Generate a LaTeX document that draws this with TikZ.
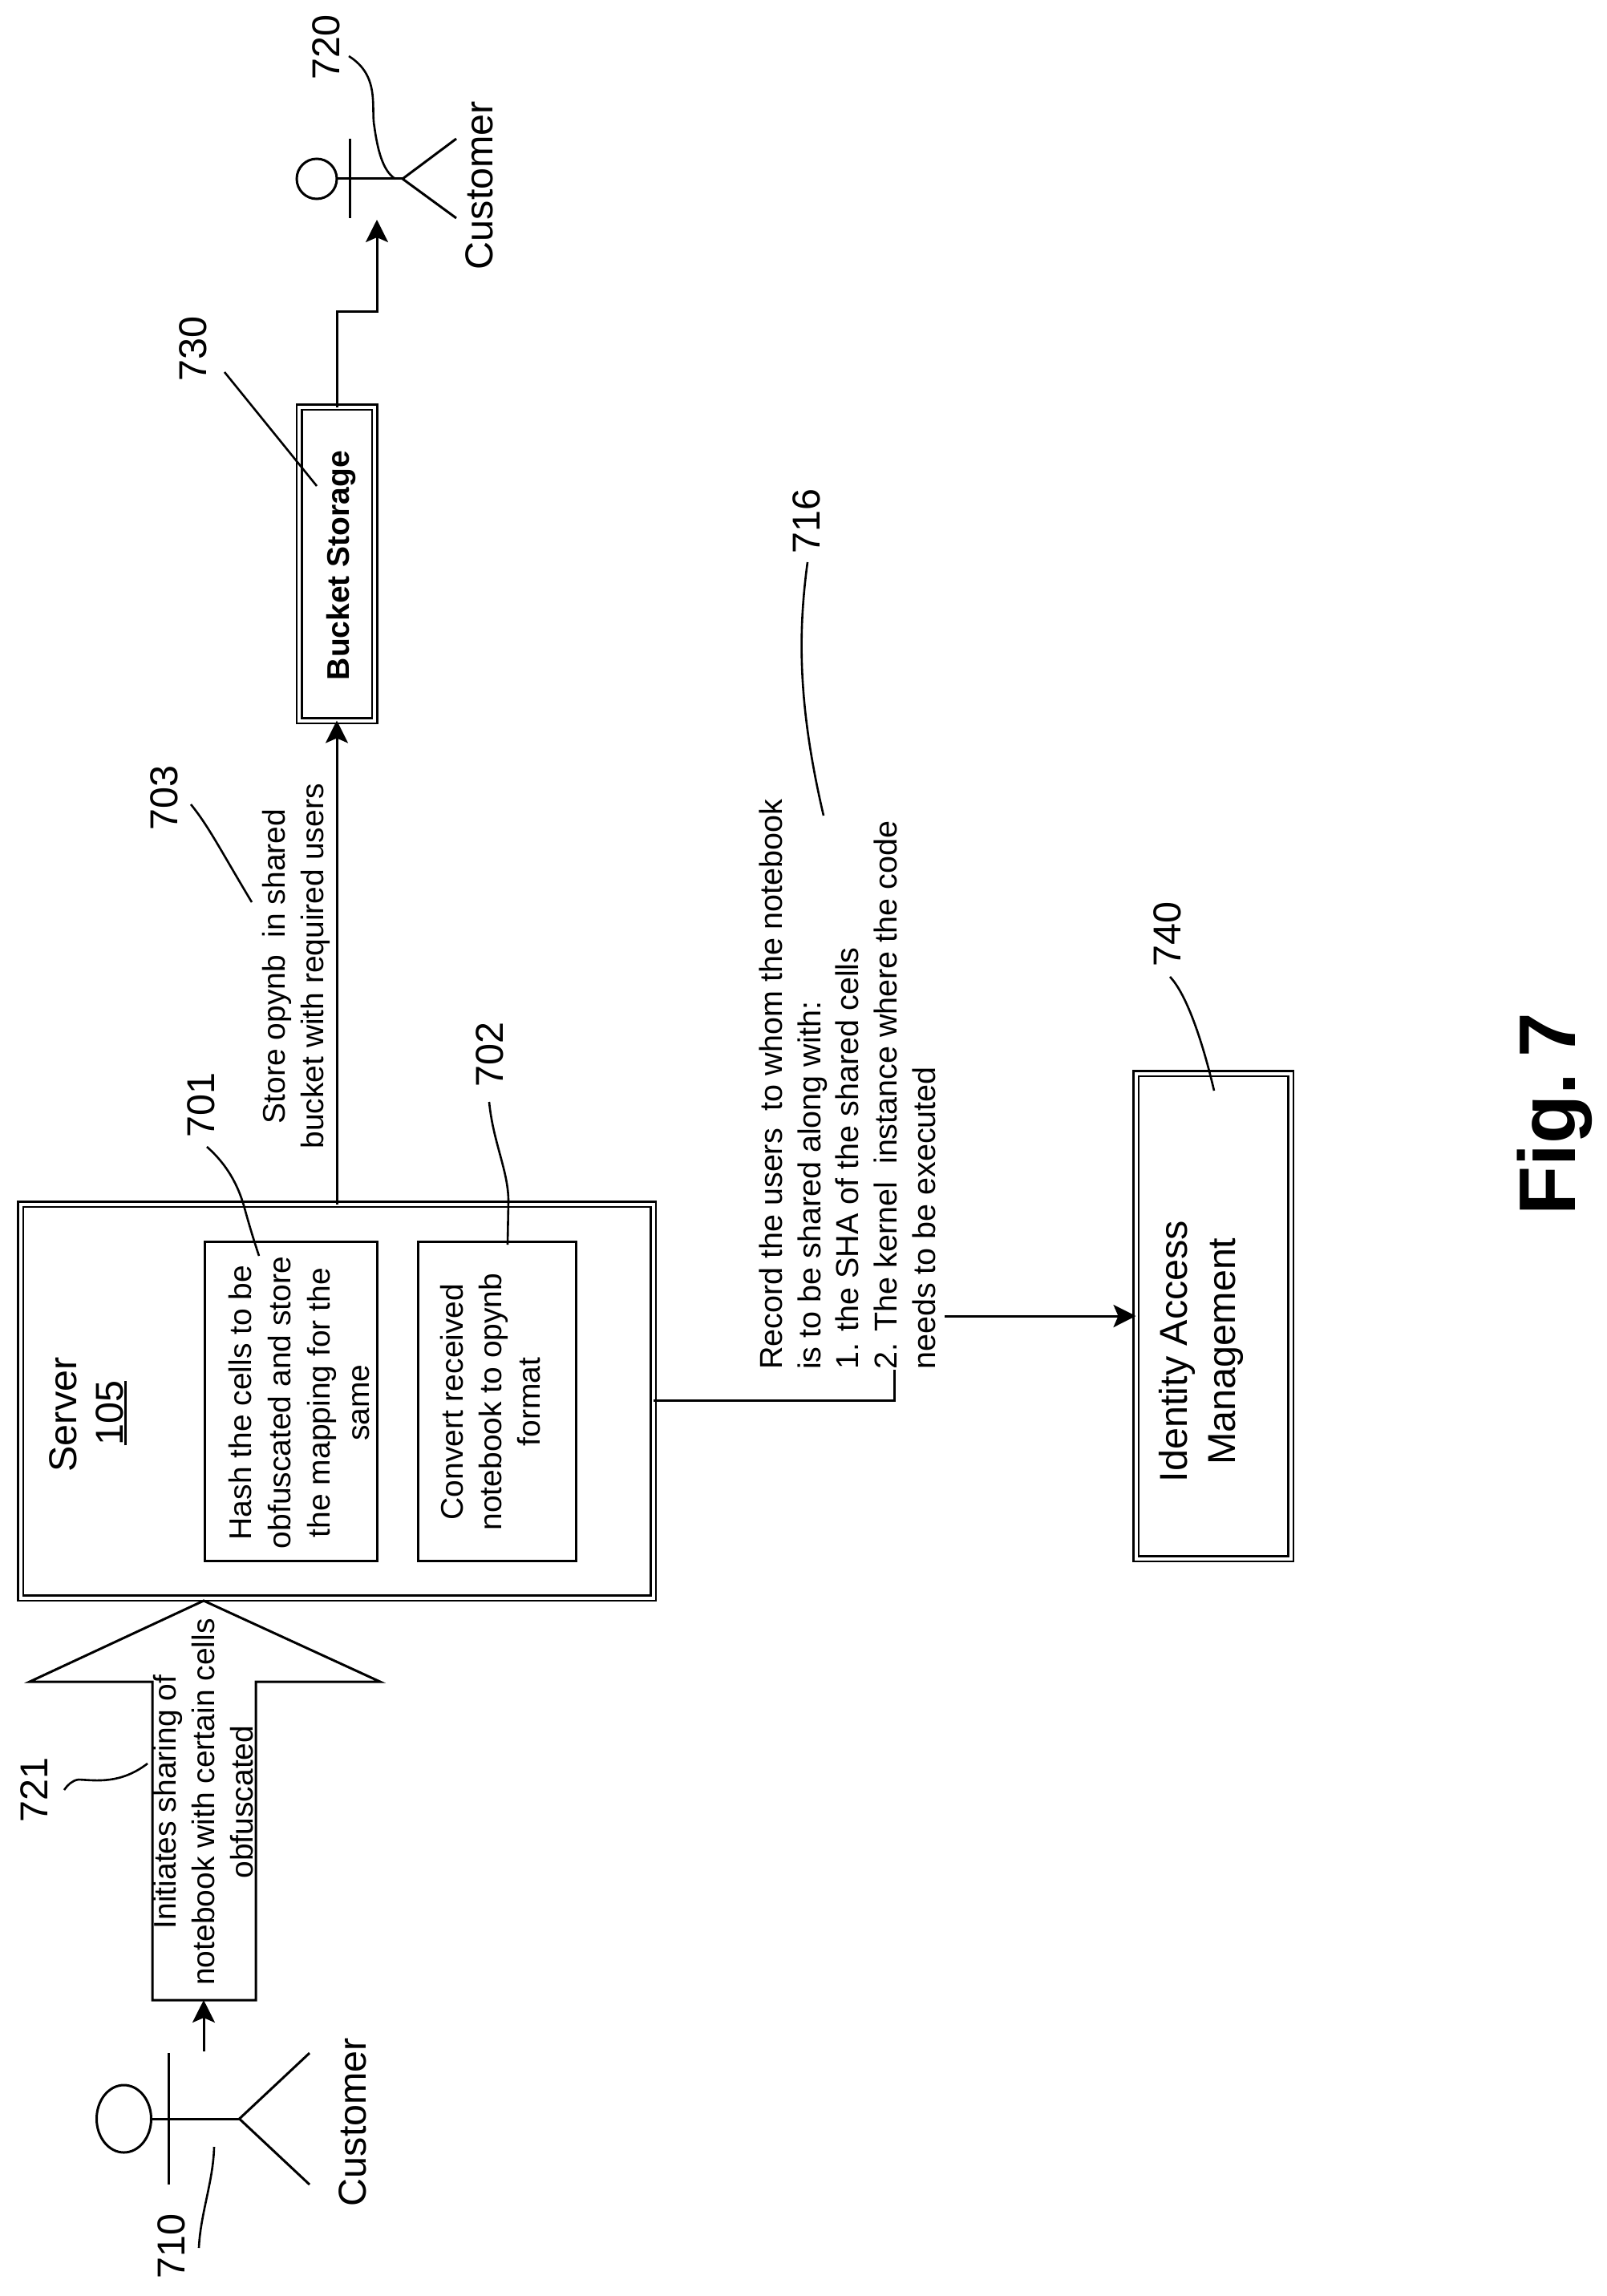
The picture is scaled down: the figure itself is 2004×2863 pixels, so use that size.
\documentclass[tikz,border=0pt]{standalone}
\usepackage{fontspec}
\setmainfont{Liberation Sans}
\usetikzlibrary{arrows.meta}
\newcommand{\fsA}{\fontsize{39}{48}\selectfont}
\newcommand{\fsAw}{\fontsize{39}{49}\selectfont}
\newcommand{\fsAr}{\fontsize{39.5}{47.8}\selectfont}
\newcommand{\fsB}{\fontsize{48.5}{60}\selectfont}
\newcommand{\thickul}[1]{\setbox0\hbox{#1}\leavevmode\rlap{\rule[-5pt]{\wd0}{3pt}}\box0}
\tikzset{
  line/.style={draw=black,line width=3pt},
  lead/.style={draw=black,line width=2.6pt},
  arrowline/.style={line,-{Stealth[length=28pt,width=28pt,inset=6pt]}},
  plainbox/.style={draw=black,line width=3pt,rectangle,inner sep=0pt,outer sep=0pt},
  dblbox/.style={draw=black,rectangle,line width=2.5pt,double,double distance=4pt,inner sep=0pt,outer sep=0pt},
  smalltext/.style={font=\fsA,rotate=90,align=center,inner sep=0pt},
  bigtext/.style={font=\fsB,rotate=90,align=center,inner sep=0pt},
  numlabel/.style={font=\fsB,rotate=90,anchor=base,inner sep=0pt},
}
\begin{document}
\begin{tikzpicture}[x=1pt,y=-1pt]
\useasboundingbox (0,0) rectangle (2004,2863);
\fill[white] (0,0) rectangle (2004,2863);

% Boxes
\node[dblbox,minimum width=789pt,minimum height=491pt] (server) at (420,1747) {};
\node[plainbox,minimum width=215pt,minimum height=398pt] (hash) at (362.5,1747) {};
\node[plainbox,minimum width=197pt,minimum height=398pt] (convert) at (619.5,1747) {};
\node[dblbox,minimum width=94pt,minimum height=391pt] (bucket) at (420,703) {};
\node[dblbox,minimum width=193pt,minimum height=605pt] (iam) at (1513,1641) {};

% Box texts
\node[numlabel] (srvname) at (95,1764) {Server};
\node[numlabel] (srvnum) at (153,1762) {\thickul{105}};
\node[smalltext,font=\fsAw] (hashtext) at (373,1749) {Hash the cells to be\\obfuscated and store\\the mapping for the\\same};
\node[smalltext] (convtext) at (612,1748) {Convert received\\notebook to opynb\\format};
\node[rotate=90,anchor=base,inner sep=0pt,font=\fsA\bfseries] (buckettext) at (435,705) {Bucket Storage};
\node[bigtext] (iamtext) at (1498,1685) {Identity Access\\Management};

% Connectors
\draw[arrowline] (server.north -| bucket.south) -- (bucket.south);
\coordinate (bend1) at (420,388);
\coordinate (bend2) at (470,388);
\coordinate (custtip) at (470,274);
\draw[arrowline] (bucket.north) -- (bend1) -- (bend2) -- (custtip);
\coordinate (iamturn) at (1115,1746);
\coordinate (iamup) at (1115,1641);
\draw[arrowline] (server.east |- iamturn) -- (iamturn) -- (iamup) -- (iam.west);

% Edge texts
\node[fill=white,rotate=90,font=\fsAr,align=left,inner xsep=0pt,inner ysep=11pt,anchor=south west] (recordtext) at (1178,1708) {Record the users\ \ to whom the notebook\\is to be shared along with:\\1. the SHA of the shared cells\\2. The kernel\ \ instance where the code\\needs to be executed};
\node[smalltext] (storetext) at (369,1205) {Store opynb\ \ in shared\\bucket with required users};

% Block arrow
\draw[line,fill=white] (254,1996) coordinate (tip) -- (474,2097) -- (319,2097) -- (319,2494) -- (190,2494) -- (190,2097) -- (37,2097) -- cycle;
\coordinate (blockbase) at (254,2494);
\node[smalltext,anchor=center] (blocktext) at (254,2247) {Initiates sharing of\\notebook with certain cells\\obfuscated};

% Customer 710
\draw[line] (154.5,2642) ellipse [x radius=34,y radius=42];
\coordinate (neck710) at (188.5,2642);
\coordinate (hip710) at (298.5,2642);
\draw[line] (neck710) -- (hip710);
\draw[line] (210,2560) -- (210,2724);
\draw[line] (386,2560) -- (hip710) -- (386,2724);
\coordinate (c710arrow) at (254,2558);
\draw[arrowline] (c710arrow) -- (blockbase);
\node[numlabel] (cust710) at (456,2646) {Customer};

% Customer 720
\draw[line] (395,223) circle [radius=25];
\coordinate (neck720) at (420,223);
\coordinate (hip720) at (502,223);
\draw[line] (neck720) -- (hip720);
\draw[line] (436,173) -- (436,272);
\draw[line] (569,173) -- (hip720) -- (569,272);
\node[numlabel] (cust720) at (614,231) {Customer};

% Fig
\node[rotate=90,anchor=base,inner sep=0pt,font=\fontsize{100}{110}\selectfont\bfseries] (figlabel) at (1964,1389) {Fig.\hspace{19pt}7};

% Reference numerals
\node[numlabel] (n701) at (267,1378) {701};
\node[numlabel] (n702) at (627,1315) {702};
\node[numlabel] (n703) at (221,995) {703};
\node[numlabel] (n710) at (230,2801) {710};
\node[numlabel] (n716) at (1022,650) {716};
\node[numlabel] (n720) at (423,59) {720};
\node[numlabel] (n721) at (59,2232) {721};
\node[numlabel] (n730) at (257,435) {730};
\node[numlabel] (n740) at (1472,1165) {740};

% Lead lines
\draw[lead] (258,1430) .. controls (290,1458) and (300,1490) .. (304,1503) .. controls (310,1525) and (316,1545) .. (323,1566);
\draw[lead] (610,1374) .. controls (615,1425) and (634,1460) .. (634,1498) -- (633,1552);
\draw[lead] (238,1003) .. controls (260,1030) and (275,1060) .. (314,1125);
\draw[lead] (267,2677) .. controls (266,2720) and (250,2760) .. (248,2803);
\draw[lead] (1007,701) .. controls (995,790) and (995,880) .. (1027,1017);
\draw[lead] (435,70) .. controls (475,95) and (462,135) .. (467,159) .. controls (472,195) and (480,215) .. (493,223);
\draw[lead] (184,2199) .. controls (150,2225) and (120,2220) .. (98,2219) .. controls (90,2220) and (84,2226) .. (80,2232);
\draw[lead] (280,464) -- (395,606);
\draw[lead] (1459,1218) .. controls (1480,1240) and (1500,1300) .. (1514,1360);
\end{tikzpicture}
\end{document}
